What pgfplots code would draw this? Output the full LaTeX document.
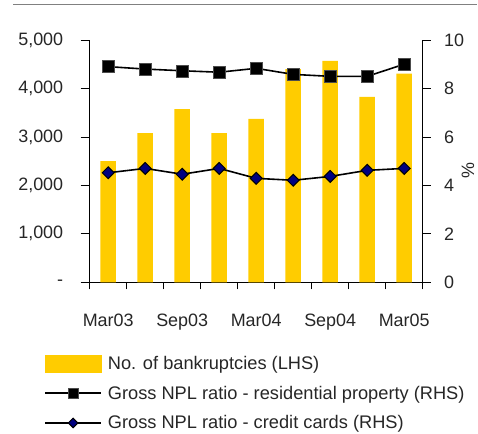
\documentclass[border=0pt]{standalone}
\usepackage{fontspec}
\setmainfont{Liberation Sans}
\usepackage{pgfplots}
\pgfplotsset{compat=1.18}
\definecolor{barc}{HTML}{FFCC00}
\definecolor{cardblue}{HTML}{000080}

\pgfplotsset{
  common/.style={
    at={(89.7bp,151.7bp)}, anchor=south west,
    scale only axis, width=333bp, height=242.3bp,
    xmin=-0.5, xmax=8.5,
    axis line style={-, black, line width=0.8bp},
    tick style={black, line width=0.8bp},
    tick align=outside,
    tick label style={font=\fontsize{18}{18}\selectfont, text=black!85},
  },
  legline/.style={legend image code/.code={%
    \draw[##1, mark repeat=2, mark phase=2, mark size=#1]
      plot coordinates {(0bp,0bp)(28bp,0bp)(56bp,0bp)};}},
}

\begin{document}
\begin{tikzpicture}[x=1bp,y=1bp]
\path[use as bounding box] (0,0) rectangle (478,434);
\draw[black!50, line width=1.5bp] (13,429.5) -- (477,429.5);

\begin{axis}[
  common,
  ymin=0, ymax=5000,
  axis y line*=left, axis x line*=bottom,
  xtick={0,2,4,6,8},
  xticklabels={Mar03,Sep03,Mar04,Sep04,Mar05},
  major x tick style={draw=none},
  minor xtick={-0.5,0.5,1.5,2.5,3.5,4.5,5.5,6.5,7.5,8.5},
  minor tick length=7bp, major tick length=9bp,
  ytick={0,1000,2000,3000,4000,5000},
  yticklabels={-,{1,000},{2,000},{3,000},{4,000},{5,000}},
  xticklabel style={yshift=-19bp},
  yticklabel style={xshift=-14bp},
]
\addplot[ybar, bar width=15.5bp, fill=barc, draw=none] coordinates {
(0,2500)(1,3080)(2,3575)(3,3080)(4,3370)(5,4400)(6,4570)(7,3825)(8,4305)};
\end{axis}

\begin{axis}[
  common,
  ymin=0, ymax=10,
  axis y line*=right, axis x line=none,
  ytick={0,2,4,6,8,10},
  yticklabels={0,2,4,6,8,10},
  major tick length=8bp,
  yticklabel style={anchor=west, xshift=10bp},
  ylabel={\%},
  ylabel style={font=\fontsize{18}{18}\selectfont, text=black!85,
    anchor=center, at={(rel axis cs:1.136,0.46)}},
  legend style={at={(-0.137,-0.296)}, anchor=north west, draw=none, fill=none,
    font=\fontsize{18.3}{18.3}\selectfont, text=black!85, row sep=11bp,
    column sep=4bp, inner sep=0pt},
  legend cell align=left,
]
\addlegendimage{legend image code/.code={\fill[barc] (0bp,-8.5bp) rectangle (56bp,8.5bp);}}
\addlegendentry{No. of bankruptcies (LHS)}
\addplot[black, line width=1.6bp, mark=square*, mark size=6bp,
  mark options={fill=black, draw=black!70, line width=0.5bp}, legline=5bp]
  coordinates {
(0,8.90)(1,8.80)(2,8.73)(3,8.67)(4,8.83)(5,8.58)(6,8.50)(7,8.50)(8,9.00)};
\addlegendentry{Gross NPL ratio - residential property (RHS)}
\addplot[black, line width=1.6bp, mark=square*, mark size=4.2bp,
  mark options={rotate=45, fill=cardblue, draw=black, line width=1bp}, legline=3.4bp]
  coordinates {
(0,4.52)(1,4.70)(2,4.46)(3,4.70)(4,4.29)(5,4.21)(6,4.37)(7,4.62)(8,4.70)};
\addlegendentry{Gross NPL ratio - credit cards (RHS)}
\end{axis}
\end{tikzpicture}
\end{document}
